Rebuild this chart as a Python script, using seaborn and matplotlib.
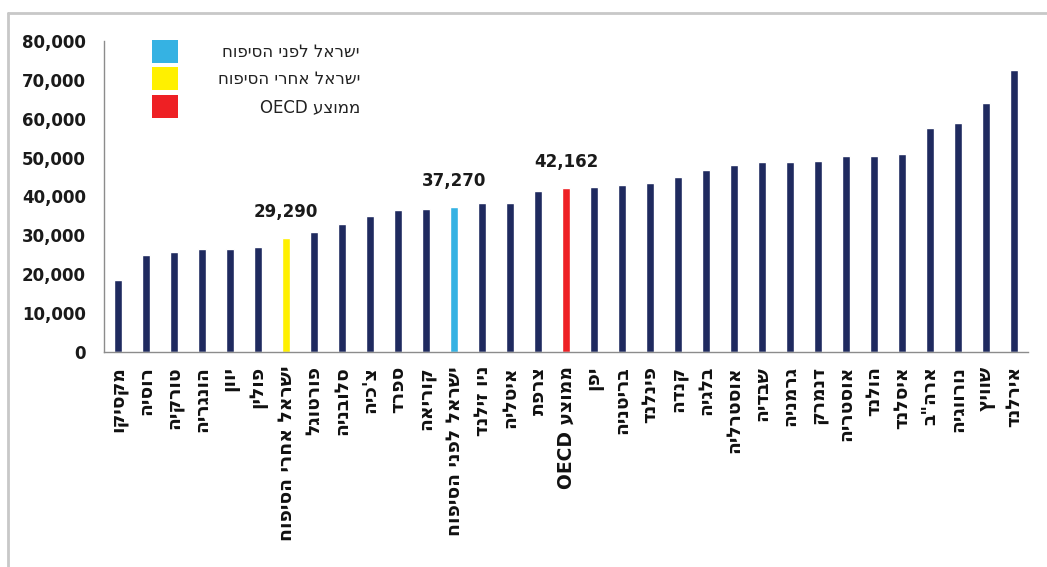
import re
import matplotlib
matplotlib.use("Agg")
import matplotlib.pyplot as plt
from matplotlib.patches import Rectangle
from matplotlib.lines import Line2D
from matplotlib.ticker import FuncFormatter, FixedLocator, NullFormatter
import seaborn as sns
import pandas as pd

# GDP per capita by country (logical Hebrew order)
countries = [
    "מקסיקו", "רוסיה", "טורקיה", "הונגריה", "יוון", "פולין",
    "ישראל אחרי הסיפוח", "פורטוגל", "סלובניה", "צ'כיה", "ספרד", "קוריאה",
    "ישראל לפני הסיפוח", "ניו זילנד", "איטליה", "צרפת", "ממוצע OECD", "יפן",
    "בריטניה", "פינלנד", "קנדה", "בלגיה", "אוסטרליה", "שבדיה", "גרמניה",
    "דנמרק", "אוסטריה", "הולנד", "איסלנד", 'ארה"ב', "נורווגיה", "שוויץ", "אירלנד",
]
values = [
    18500, 25000, 25600, 26600, 26600, 27000,
    29290, 30800, 32800, 34900, 36400, 36700,
    37270, 38300, 38400, 41400, 42162, 42400,
    42900, 43400, 45000, 46700, 48100, 48800, 48900,
    49100, 50400, 50500, 50800, 57600, 58800, 64000, 72600,
]
labelled = ["ישראל אחרי הסיפוח", "ישראל לפני הסיפוח", "ממוצע OECD"]
legend_labels = ["ישראל לפני הסיפוח", "ישראל אחרי הסיפוח", "ממוצע OECD"]

NAVY = "#1f2a5f"
BLUE = "#35b2e3"
YELLOW = "#fff000"
RED = "#ee2024"
special = {"ישראל לפני הסיפוח": BLUE, "ישראל אחרי הסיפוח": YELLOW, "ממוצע OECD": RED}
legend_colors = [BLUE, YELLOW, RED]


def visual(s):
    """Right-to-left text in left-to-right glyph order (Latin runs kept intact)."""
    return re.sub(r"[A-Za-z0-9,]+", lambda m: m.group(0)[::-1], s[::-1])


sns.set_style("white")
plt.rcParams["font.family"] = ["DejaVu Sans"]

df = pd.DataFrame({"country": countries, "value": values})
palette = {c: special.get(c, NAVY) for c in countries}

fig = plt.figure(figsize=(10.47, 5.67), dpi=100)
ax = fig.add_axes([0.0993, 0.379, 0.8827, 0.549])

sns.barplot(data=df, x="country", y="value", hue="country", order=countries,
            hue_order=countries, palette=palette, legend=False, width=0.28,
            saturation=1, ax=ax)

ax.set_xlim(-0.5, len(countries) - 0.5)
ax.set_ylim(0, 80000)
ax.set_xlabel("")
ax.set_ylabel("")

# y axis
ax.set_yticks(range(0, 80001, 10000))
ax.yaxis.set_major_formatter(FuncFormatter(lambda v, p: f"{int(v):,}"))
ax.tick_params(axis="y", direction="out", length=5, width=1, color="#8c8c8c",
               pad=8, labelsize=12, labelcolor="#1a1a1a")
for t in ax.get_yticklabels():
    t.set_fontweight("bold")

# x axis: category labels centred, tick marks between categories
ax.set_xticks(range(len(countries)))
ax.set_xticklabels([visual(c) for c in countries], rotation=90, va="top",
                   ha="center", fontsize=13.5, fontweight="bold", color="#111111")
ax.tick_params(axis="x", which="major", length=0, pad=10)
ax.xaxis.set_minor_locator(FixedLocator([i - 0.5 for i in range(len(countries) + 1)]))
ax.xaxis.set_minor_formatter(NullFormatter())
ax.tick_params(axis="x", which="minor", direction="out", length=5, width=1,
               color="#8c8c8c")

for side in ("top", "right"):
    ax.spines[side].set_visible(False)
for side in ("left", "bottom"):
    ax.spines[side].set_color("#8c8c8c")
    ax.spines[side].set_linewidth(1)

# value labels above the highlighted bars
for name in labelled:
    i = countries.index(name)
    v = values[i]
    ax.annotate(f"{v:,}", xy=(i, v), xytext=(0, 12), textcoords="offset points",
                ha="center", va="bottom", fontsize=12, fontweight="bold",
                color="#1a1a1a")

# legend: colour squares with right-aligned Hebrew labels
W, H = 1047, 567
sq_y = [40, 67, 95]
for y0, col, lab in zip(sq_y, legend_colors, legend_labels):
    fig.patches.append(Rectangle((152 / W, 1 - (y0 + 23) / H), 26 / W, 23 / H,
                                 transform=fig.transFigure, facecolor=col,
                                 edgecolor="none"))
    fig.text(360 / W, 1 - (y0 + 12) / H, visual(lab), ha="right", va="center",
             fontsize=12, color="#222222")

# thin frame along the top and left of the figure
fig.add_artist(Line2D([8 / W, 1.0], [1 - 13 / H, 1 - 13 / H], transform=fig.transFigure,
                      color="#c8c8c8", lw=2))
fig.add_artist(Line2D([8 / W, 8 / W], [1 - 13 / H, 0.0], transform=fig.transFigure,
                      color="#c8c8c8", lw=2))

fig.savefig("out.png", dpi=100, facecolor="white")
